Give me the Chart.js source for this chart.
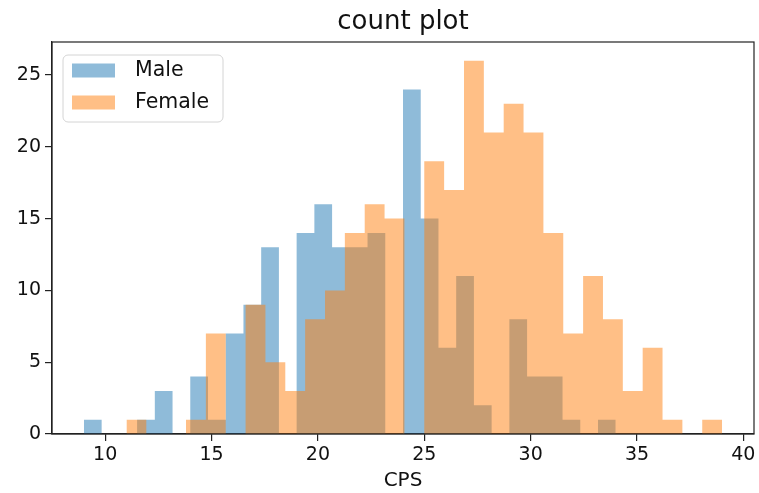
<!DOCTYPE html>
<html>
<head>
<meta charset="utf-8">
<script src="https://cdn.jsdelivr.net/npm/chart.js@4"></script>
<style>
  html, body { margin: 0; padding: 0; background: #fff; }
  #wrap { width: 759px; height: 493px; }
</style>
</head>
<body>
<div id="wrap"><canvas id="histCanvas" width="759" height="493"></canvas></div>
<script>
// histogram counts per bin (30 bins each)
const maleCounts   = [1, 0, 0, 1, 3, 0, 4, 1, 7, 9, 13, 0, 14, 16, 13, 13, 14, 0, 24, 15, 6, 11, 2, 0, 8, 4, 4, 1, 0, 1];
const femaleCounts = [1, 0, 0, 1, 7, 0, 9, 5, 3, 8, 10, 14, 16, 15, 0, 19, 17, 26, 21, 23, 21, 14, 7, 11, 8, 3, 6, 1, 0, 1];
const maleRange   = [9, 34];
const femaleRange = [11, 39];
const binCount = 30;
const xTicks = [10, 15, 20, 25, 30, 35, 40];
const yTicks = [0, 5, 10, 15, 20, 25];
const titleText = 'count plot';

const FONT = "'DejaVu Sans', sans-serif";

// bin edges like numpy.histogram, then a step outline for each series
function stepPoints(counts, range) {
    const w = (range[1] - range[0]) / binCount;
    const pts = counts.map((c, i) => ({ x: range[0] + i * w, y: c }));
    pts.push({ x: range[1], y: 0 });
    return pts;
}

const lo = Math.min(maleRange[0], femaleRange[0]);
const hi = Math.max(maleRange[1], femaleRange[1]);
const xPad = (hi - lo) * 0.05;
const yMax = Math.max(...maleCounts, ...femaleCounts) * 1.05;

// matplotlib-style box around the axes, title centred over the axes, legend inside
const boxPlugin = {
    id: 'boxAndLegend',
    afterDraw(chart) {
        const { ctx, chartArea: a } = chart;
        ctx.save();
        ctx.strokeStyle = '#222';
        ctx.lineWidth = 1.2;
        ctx.strokeRect(a.left, a.top, a.right - a.left, a.bottom - a.top);

        ctx.fillStyle = '#111';
        ctx.font = "26px " + FONT;
        ctx.textAlign = 'center';
        ctx.textBaseline = 'middle';
        ctx.fillText(titleText, (a.left + a.right) / 2, a.top - 20);

        const x0 = a.left + 11, y0 = a.top + 13, w = 160, h = 67, r = 5;
        ctx.beginPath();
        ctx.roundRect(x0, y0, w, h, r);
        ctx.fillStyle = 'rgba(255,255,255,0.8)';
        ctx.fill();
        ctx.strokeStyle = '#d4d4d4';
        ctx.lineWidth = 1;
        ctx.stroke();

        ctx.font = "20.5px " + FONT;
        ctx.textAlign = 'left';
        chart.data.datasets.forEach((ds, i) => {
            const ry = y0 + 8.5 + i * 32;
            ctx.fillStyle = ds.backgroundColor;
            ctx.fillRect(x0 + 9, ry, 43, 14);
            ctx.fillStyle = '#111';
            ctx.fillText(ds.label, x0 + 72, ry + 7.5);
        });
        ctx.restore();
    }
};

const ctx = document.getElementById('histCanvas').getContext('2d');
new Chart(ctx, {
    type: 'line',
    data: {
        datasets: [
            { label: 'Male', data: stepPoints(maleCounts, maleRange), order: 1,
              backgroundColor: 'rgba(31,119,180,0.5)', borderColor: 'rgba(0,0,0,0)', borderWidth: 0,
              fill: 'origin', stepped: 'before', pointRadius: 0, tension: 0 },
            { label: 'Female', data: stepPoints(femaleCounts, femaleRange), order: 0,
              backgroundColor: 'rgba(255,127,14,0.5)', borderColor: 'rgba(0,0,0,0)', borderWidth: 0,
              fill: 'origin', stepped: 'before', pointRadius: 0, tension: 0 }
        ]
    },
    options: {
        responsive: false,
        animation: false,
        events: [],
        layout: { padding: { left: 0, right: 5, top: 42, bottom: 0 } },
        plugins: {
            legend: { display: false },
            tooltip: { enabled: false },
            title: { display: false }
        },
        scales: {
            x: {
                type: 'linear', min: lo - xPad, max: hi + xPad,
                afterBuildTicks: s => { s.ticks = xTicks.map(v => ({ value: v })); },
                afterFit: s => { s.height = 59; },
                grid: { drawOnChartArea: false, tickLength: 7, color: '#222', lineWidth: 1.2 },
                border: { display: true, color: '#222', width: 1.2 },
                ticks: { color: '#111', padding: 3, maxRotation: 0, font: { family: FONT, size: 19 } },
                title: { display: true, text: 'CPS', color: '#111', padding: { top: 0, bottom: 0 },
                         font: { family: FONT, size: 20 } }
            },
            y: {
                type: 'linear', min: 0, max: yMax,
                afterBuildTicks: s => { s.ticks = yTicks.map(v => ({ value: v })); },
                afterFit: s => { s.width = 52; },
                grid: { drawOnChartArea: false, tickLength: 7, color: '#222', lineWidth: 1.2 },
                border: { display: true, color: '#222', width: 1.2 },
                ticks: { color: '#111', padding: 4, font: { family: FONT, size: 19 } }
            }
        }
    },
    plugins: [boxPlugin]
});
</script>
</body>
</html>
